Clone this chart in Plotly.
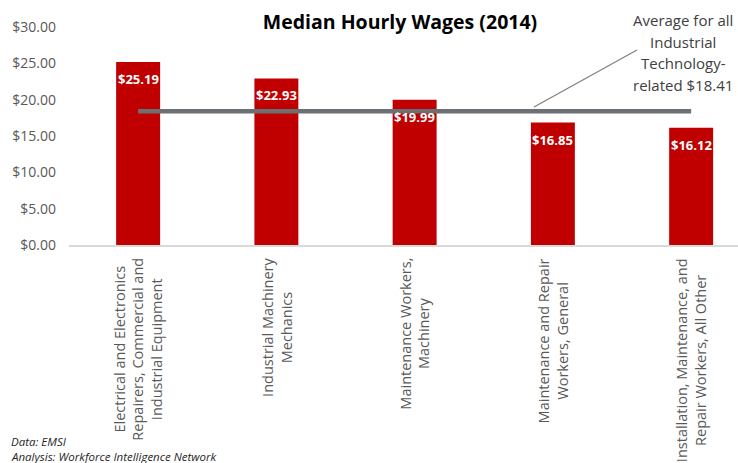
import plotly.graph_objects as go

categories = [
    "Electrical and Electronics<br>Repairers, Commercial and<br>Industrial Equipment",
    "Industrial Machinery<br>Mechanics",
    "Maintenance Workers,<br>Machinery",
    "Maintenance and Repair<br>Workers, General",
    "Installation, Maintenance, and<br>Repair Workers, All Other",
]
wages = [25.19, 22.93, 19.99, 16.85, 16.12]
average_wage = 18.41
bar_labels = ["$25.19", "$22.93", "$19.99", "$16.85", "$16.12"]
callout_lines = ["Average for all", "Industrial", "Technology-", "related $18.41"]
title_text = "<b>Median Hourly Wages (2014)</b>"
source_lines = ["Data: EMSI", "Analysis: Workforce Intelligence Network"]

FONT = "Open Sans"
idx = list(range(len(categories)))

W, H = 738, 463
L, R, T, B = 69, 0, 27, 218
pw, ph = W - L - R, H - T - B


def px_to_paper(px, py):
    return (px - L) / pw, (H - B - py) / ph


fig = go.Figure()
fig.add_trace(go.Bar(
    x=idx, y=wages, width=0.318, marker=dict(color="#c00000", line=dict(width=0)),
    hoverinfo="skip",
))
fig.add_trace(go.Scatter(
    x=idx, y=[average_wage] * len(idx), mode="lines",
    line=dict(color="#6d7073", width=4.5), hoverinfo="skip",
))

annotations = []
for i, (v, t) in enumerate(zip(wages, bar_labels)):
    annotations.append(dict(
        x=i, y=v, xref="x", yref="y", text="<b>%s</b>" % t, showarrow=False,
        yanchor="middle", yshift=-17, font=dict(family=FONT, size=13, color="white"),
    ))
for i, c in enumerate(categories):
    annotations.append(dict(
        x=i, y=0, xref="x", yref="paper", text=c, showarrow=False,
        textangle=-90, align="center", yanchor="top", xanchor="center", yshift=-11,
        font=dict(family=FONT, size=14.5, color="#595959"),
    ))
for k, line in enumerate(callout_lines):
    xp, yp = px_to_paper(683, 20 + 21.7 * k)
    annotations.append(dict(
        x=xp, y=yp, xref="paper", yref="paper", text=line, showarrow=False,
        xanchor="center", yanchor="middle",
        font=dict(family=FONT, size=15, color="#404040"),
    ))
for k, line in enumerate(source_lines):
    xp, yp = px_to_paper(9, 441 + 15 * k)
    annotations.append(dict(
        x=xp, y=yp, xref="paper", yref="paper", text="<i>%s</i>" % line, showarrow=False,
        xanchor="left", yanchor="middle",
        font=dict(family=FONT, size=11.5, color="#262626"),
    ))

# pointer line for callout
x0p, y0p = px_to_paper(534, 107)
x1p, y1p = px_to_paper(637, 50)
shapes = [dict(type="line", xref="paper", yref="paper", x0=x0p, y0=y0p, x1=x1p, y1=y1p,
               line=dict(color="#7f7f7f", width=1.2))]

tx, ty = px_to_paper(400, 22)
fig.update_layout(
    width=W, height=H,
    margin=dict(l=L, r=R, t=T, b=B, pad=0),
    paper_bgcolor="white", plot_bgcolor="white",
    showlegend=False,
    title=dict(text=title_text, x=tx, xref="paper", y=1 - 22 / H, yref="container",
               xanchor="center", yanchor="middle",
               font=dict(family=FONT, size=19.5, color="black")),
    xaxis=dict(range=[-0.5, 4.339], showticklabels=False, showgrid=False, zeroline=False,
               showline=True, linecolor="#d9d9d9", linewidth=1.5, ticks=""),
    yaxis=dict(range=[0, 30], dtick=5, tickprefix="$", tickformat=".2f", showgrid=False,
               zeroline=False, showline=False, ticks="", ticklabelstandoff=12,
               tickfont=dict(family=FONT, size=14, color="#595959")),
    annotations=annotations, shapes=shapes,
)
fig.write_html("out.html", config={"displayModeBar": False},
               post_script="document.body.style.margin='0';")
